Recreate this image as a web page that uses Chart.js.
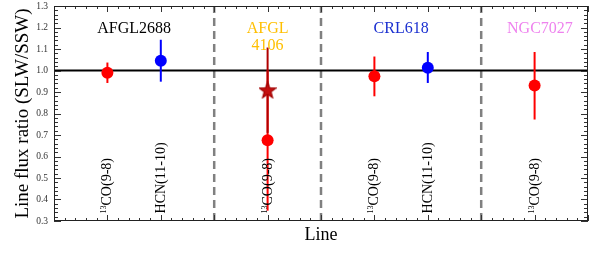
<!DOCTYPE html>
<html>
<head>
<meta charset="utf-8">
<script src="https://cdn.jsdelivr.net/npm/chart.js@4/dist/chart.umd.min.js"></script>
<style>
  html, body { margin: 0; padding: 0; background: #fff; }
  #wrap { width: 598px; height: 262px; }
</style>
</head>
<body>
<div id="wrap"><canvas id="chart"></canvas></div>
<script>
    // measured line ratios (SLW/SSW), one entry per line detection
    const lineNames = ['CO(9-8)', 'HCN(11-10)', 'CO(9-8)', 'CO(9-8)', 'HCN(11-10)', 'CO(9-8)'];
    const lineIso = ['13', '', '13', '13', '', '13'];
    const lineX = [1, 2, 4, 6, 7, 9];
    const ratio = [0.99, 1.045, 0.676, 0.973, 1.013, 0.93];
    const ratioLow = [0.942, 0.948, 0.348, 0.88, 0.942, 0.772];
    const ratioHigh = [1.037, 1.143, 1.0, 1.065, 1.086, 1.086];
    const pointColors = ['#ff0000', '#0000ff', '#ff0000', '#ff0000', '#0000ff', '#ff0000'];

    // the extra star point for AFGL 4106
    const starX = [4];
    const starY = [0.908];
    const starLow = [0.71];
    const starHigh = [1.107];

    // source names written over each panel
    const sourceNames = [['AFGL2688'], ['AFGL', '4106'], ['CRL618'], ['NGC7027']];
    const sourceX = [1.5, 4, 6.5, 9.1];
    const sourceColors = ['#000000', '#ffbf00', '#1a2fd0', '#ee82ee'];

    // panel separators
    const separatorX = [3, 5, 8];
    const unityY = [1.0];

    const serif = '"Liberation Serif", "DejaVu Serif", serif';

    // star marker drawn on a small canvas
    function makeStar() {
        const c = document.createElement('canvas');
        c.width = 18; c.height = 18;
        const g = c.getContext('2d');
        g.beginPath();
        for (let i = 0; i < 10; i++) {
            const r = i % 2 === 0 ? 8.5 : 3.6;
            const a = -Math.PI / 2 + i * Math.PI / 5;
            const px = 9 + r * Math.cos(a), py = 9.5 + r * Math.sin(a);
            if (i === 0) g.moveTo(px, py); else g.lineTo(px, py);
        }
        g.closePath();
        g.fillStyle = '#c41010';
        g.fill();
        g.strokeStyle = '#a00000';
        g.lineWidth = 1.2;
        g.stroke();
        return c;
    }

    const datasets = [];

    separatorX.forEach(x => {
        datasets.push({
            type: 'line', data: [{x: x, y: 0.3}, {x: x, y: 1.3}],
            borderColor: '#808080', borderWidth: 2.5, borderDash: [8, 5],
            pointRadius: 0, order: 20
        });
    });

    unityY.forEach(y => {
        datasets.push({
            type: 'line', data: [{x: 0, y: y}, {x: 10, y: y}],
            borderColor: '#000000', borderWidth: 2, pointRadius: 0, order: 15
        });
    });

    lineX.forEach((x, i) => {
        datasets.push({
            type: 'line', data: [{x: x, y: ratioLow[i]}, {x: x, y: ratioHigh[i]}],
            borderColor: pointColors[i], borderWidth: 2, pointRadius: 0, order: 10
        });
    });

    starX.forEach((x, i) => {
        datasets.push({
            type: 'line', data: [{x: x, y: starLow[i]}, {x: x, y: starHigh[i]}],
            borderColor: '#b00000', borderWidth: 2, pointRadius: 0, order: 8
        });
    });

    datasets.push({
        type: 'scatter',
        data: lineX.map((x, i) => ({x: x, y: ratio[i]})),
        backgroundColor: pointColors, borderColor: pointColors,
        pointRadius: 6, borderWidth: 0, order: 2
    });

    datasets.push({
        type: 'scatter',
        data: starX.map((x, i) => ({x: x, y: starY[i]})),
        pointStyle: makeStar(), order: 1
    });

    // inward ticks on all four sides, frame, and text labels inside the plot
    const framePlugin = {
        id: 'frame',
        afterDraw(chart) {
            const {ctx, chartArea: a, scales: {x, y}} = chart;
            ctx.save();
            ctx.strokeStyle = '#333';
            ctx.lineWidth = 1;
            ctx.beginPath();
            for (let v = 0; v <= 10.001; v += 0.2) {
                const px = Math.round(x.getPixelForValue(v)) + 0.5;
                const len = Math.abs(v - Math.round(v)) < 0.01 ? 6 : 3;
                ctx.moveTo(px, a.bottom); ctx.lineTo(px, a.bottom - len);
                ctx.moveTo(px, a.top); ctx.lineTo(px, a.top + len);
            }
            for (let k = 0; k <= 50; k++) {
                const py = Math.round(y.getPixelForValue(0.3 + k * 0.02)) + 0.5;
                const len = k % 5 === 0 ? 7 : 4;
                ctx.moveTo(a.left, py); ctx.lineTo(a.left + len, py);
                ctx.moveTo(a.right, py); ctx.lineTo(a.right - len, py);
            }
            ctx.stroke();
            ctx.strokeStyle = '#222';
            ctx.strokeRect(a.left + 0.5, a.top + 0.5, a.right - a.left - 1, a.bottom - a.top - 1);

            // source names
            ctx.textAlign = 'center';
            ctx.textBaseline = 'middle';
            ctx.font = '16px ' + serif;
            sourceNames.forEach((lines, i) => {
                ctx.fillStyle = sourceColors[i];
                lines.forEach((t, j) => {
                    ctx.fillText(t, x.getPixelForValue(sourceX[i]), y.getPixelForValue(1.196) + j * 17);
                });
            });

            // rotated line labels
            ctx.fillStyle = '#000';
            lineX.forEach((v, i) => {
                ctx.save();
                ctx.translate(x.getPixelForValue(v) + 4, y.getPixelForValue(0.335));
                ctx.rotate(-Math.PI / 2);
                ctx.textAlign = 'left';
                ctx.textBaseline = 'alphabetic';
                let off = 0;
                if (lineIso[i]) {
                    ctx.font = '8px ' + serif;
                    ctx.fillText(lineIso[i], 0, -5);
                    off = ctx.measureText(lineIso[i]).width;
                }
                ctx.font = '14px ' + serif;
                ctx.fillText(lineNames[i], off, 0);
                ctx.restore();
            });
            ctx.restore();
        }
    };

    new Chart(document.getElementById('chart'), {
        data: {datasets: datasets},
        options: {
            responsive: true,
            maintainAspectRatio: false,
            animation: false,
            layout: {padding: {top: 6, right: 10, left: 0, bottom: 0}},
            plugins: {legend: {display: false}, tooltip: {enabled: false}},
            scales: {
                x: {
                    type: 'linear', min: 0, max: 10,
                    grid: {display: false, drawTicks: false}, border: {display: false},
                    ticks: {display: false},
                    title: {display: true, text: 'Line', color: '#000',
                        font: {family: serif, size: 18}, padding: {top: 0, bottom: 16}},
                    afterFit(scale) { scale.height = 41; }
                },
                y: {
                    min: 0.3, max: 1.3,
                    grid: {display: false, drawTicks: true, tickLength: 6}, border: {display: false},
                    ticks: {stepSize: 0.1, color: '#333', padding: 0,
                        font: {family: serif, size: 9.5},
                        callback: v => v.toFixed(1)},
                    title: {display: true, text: 'Line flux ratio (SLW/SSW)', color: '#000',
                        font: {family: serif, size: 19}, padding: {top: 12, bottom: 0}},
                    afterFit(scale) { scale.width = 54; }
                }
            }
        },
        plugins: [framePlugin]
    });
</script>
</body>
</html>
